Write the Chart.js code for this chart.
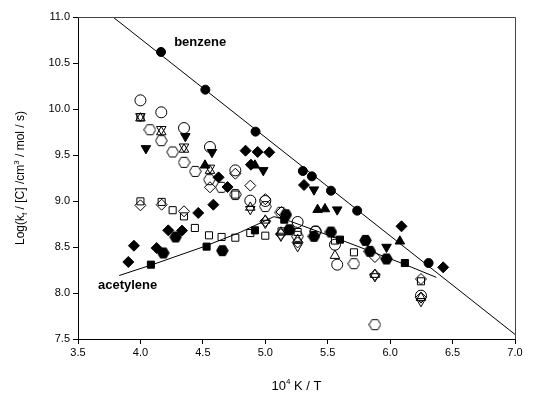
<!DOCTYPE html>
<html>
<head>
<meta charset="utf-8">
<script src="https://cdn.jsdelivr.net/npm/chart.js@4"></script>
<style>
  html, body { margin: 0; padding: 0; background: #fff; }
  #wrap { width: 535px; height: 394px; }
</style>
</head>
<body>
<div id="wrap"><canvas id="chart" width="535" height="394"></canvas></div>
<script>
const xTicks = [3.5, 4.0, 4.5, 5.0, 5.5, 6.0, 6.5, 7.0];
const yTicks = [7.5, 8.0, 8.5, 9.0, 9.5, 10.0, 10.5, 11.0];

// benzene fit line and acetylene curve
const benzeneLineX = [3.78, 7.0];
const benzeneLineY = [11.0, 7.55];
const acetyleneLineX = [3.83, 4.1, 4.5, 4.8, 5.07, 5.2, 5.6, 6.1, 6.37];
const acetyleneLineY = [8.19, 8.31, 8.50, 8.66, 8.83, 8.78, 8.58, 8.32, 8.17];

// one array pair per symbol
const filledCircleX = [4.165, 4.52, 4.922, 5.301, 5.373, 5.526, 5.736, 6.308];
const filledCircleY = [10.62, 10.21, 9.754, 9.326, 9.268, 9.112, 8.895, 8.326];

const openCircleX = [4.0, 4.167, 4.349, 4.557, 4.76, 4.88, 5.0, 5.259, 5.403, 5.558, 5.576, 6.247];
const openCircleY = [10.094, 9.964, 9.793, 9.587, 9.333, 9.004, 9.0, 8.772, 8.67, 8.525, 8.308, 7.971];

const filledTriDownX = [4.044, 4.36, 4.573, 4.984, 5.39, 5.576, 5.971];
const filledTriDownY = [9.572, 9.703, 9.53, 9.333, 9.123, 8.906, 8.5];

const openTriUpX = [4.0, 4.167, 4.349, 4.557, 4.88, 5.0, 5.125, 5.259, 5.558, 5.878, 6.247];
const openTriUpY = [9.9, 9.75, 9.56, 9.33, 8.93, 8.79, 8.66, 8.58, 8.406, 8.2, 7.95];

const filledSquareX = [4.084, 4.53, 4.917, 5.152, 5.598, 6.118];
const filledSquareY = [8.308, 8.504, 8.681, 8.797, 8.58, 8.326];

const openSquareX = [4.0, 4.0, 4.17, 4.258, 4.349, 4.436, 4.549, 4.65, 4.76, 4.76, 4.88, 5.0, 5.13, 5.259, 5.558, 5.71, 6.247];
const openSquareY = [9.91, 8.996, 8.99, 8.9, 8.833, 8.707, 8.627, 8.609, 8.601, 9.07, 8.652, 8.623, 8.67, 8.663, 8.57, 8.442, 8.127];

const filledDiamondX = [3.903, 3.948, 4.13, 4.223, 4.333, 4.463, 4.584, 4.626, 4.698, 4.842, 4.885, 4.939, 5.032, 5.31, 6.091, 6.425];
const filledDiamondY = [8.337, 8.514, 8.489, 8.681, 8.678, 8.87, 8.96, 9.257, 9.152, 9.547, 9.395, 9.533, 9.529, 9.174, 8.725, 8.279];

const openDiamondX = [4.0, 4.17, 4.349, 4.557, 4.76, 4.88, 5.0, 5.0, 5.125, 5.13, 5.259, 5.878, 5.878, 6.247, 6.247];
const openDiamondY = [8.953, 8.96, 8.888, 9.149, 9.297, 9.167, 9.02, 8.78, 8.64, 8.88, 8.55, 8.391, 8.196, 8.152, 7.95];

const filledTriUpX = [4.517, 4.917, 5.419, 5.478, 6.078];
const filledTriUpY = [9.388, 9.388, 8.906, 8.913, 8.562];

const openTriDownX = [4.0, 4.167, 4.349, 4.557, 4.88, 5.0, 5.125, 5.259, 5.878, 6.247];
const openTriDownY = [9.92, 9.78, 9.59, 9.36, 8.91, 8.76, 8.62, 8.507, 8.18, 7.91];

const filledHexX = [4.183, 4.282, 4.656, 5.165, 5.192, 5.39, 5.526, 5.803, 5.838, 5.971];
const filledHexY = [8.435, 8.609, 8.46, 8.851, 8.688, 8.616, 8.663, 8.572, 8.453, 8.37];

const openHexX = [4.076, 4.167, 4.258, 4.349, 4.439, 4.552, 4.648, 4.76, 5.0, 5.125, 5.259, 5.403, 5.71, 5.878];
const openHexY = [9.775, 9.656, 9.533, 9.42, 9.322, 9.232, 9.149, 9.07, 8.94, 8.877, 8.616, 8.67, 8.319, 7.656];

const FONT = "Arial, 'Liberation Sans', Helvetica, sans-serif";

function pts(xs, ys) {
   return xs.map((x, i) => ({ x: x, y: ys[i] }));
}

function makeHexagon(filled) {
   const c = document.createElement("canvas");
   c.width = 13;
   c.height = 13;
   const ctx = c.getContext("2d");
   ctx.beginPath();
   for (let i = 0; i < 6; i++) {
      const a = (Math.PI / 3) * i;
      const px = 6.5 + 5.8 * Math.cos(a);
      const py = 6.5 + 5.8 * Math.sin(a);
      if (i === 0) ctx.moveTo(px, py);
      else ctx.lineTo(px, py);
   }
   ctx.closePath();
   if (filled) {
      ctx.fillStyle = "#000";
      ctx.fill();
   }
   ctx.strokeStyle = "#000";
   ctx.lineWidth = 1;
   ctx.stroke();
   return c;
}

function symbolSet(xs, ys, style, filled, radius, rotation) {
   return {
      data: pts(xs, ys),
      pointStyle: style,
      pointRadius: radius,
      pointRotation: rotation || 0,
      backgroundColor: filled ? "#000" : "rgba(0,0,0,0)",
      borderColor: "#000",
      borderWidth: 1,
      showLine: false,
   };
}

const filledHex = makeHexagon(true);
const openHex = makeHexagon(false);

// draws the frame, axis titles with sub/superscripts and the two labels
const decorPlugin = {
   id: "decor",
   afterDraw(chart) {
      const { ctx, chartArea, scales } = chart;
      ctx.save();
      ctx.strokeStyle = "#444";
      ctx.lineWidth = 1;
      ctx.beginPath();
      ctx.moveTo(chartArea.left, chartArea.top + 0.5);
      ctx.lineTo(chartArea.right + 0.5, chartArea.top + 0.5);
      ctx.lineTo(chartArea.right + 0.5, chartArea.bottom);
      ctx.stroke();

      ctx.fillStyle = "#000";
      ctx.textBaseline = "alphabetic";

      function runs(parts) {
         let w = 0;
         for (const p of parts) {
            ctx.font = p.size + "px " + FONT;
            w += ctx.measureText(p.t).width;
         }
         return w;
      }
      function drawRuns(parts, x, y) {
         let cx = x;
         for (const p of parts) {
            ctx.font = p.size + "px " + FONT;
            ctx.fillText(p.t, cx, y + (p.dy || 0));
            cx += ctx.measureText(p.t).width;
         }
      }

      // y title
      const yParts = [
         { t: "Log(k", size: 12 },
         { t: "f", size: 8, dy: 3 },
         { t: " / [C] /cm", size: 12 },
         { t: "3", size: 8, dy: -5 },
         { t: " / mol / s)", size: 12 },
      ];
      const yw = runs(yParts);
      ctx.save();
      ctx.translate(24, (chartArea.top + chartArea.bottom) / 2);
      ctx.rotate(-Math.PI / 2);
      drawRuns(yParts, -yw / 2, 0);
      ctx.restore();

      // x title
      const xParts = [
         { t: "10", size: 13 },
         { t: "4", size: 8, dy: -6 },
         { t: " K / T", size: 13 },
      ];
      const xw = runs(xParts);
      drawRuns(xParts, (chartArea.left + chartArea.right) / 2 - xw / 2, 390);

      // series labels
      ctx.font = "bold 13px " + FONT;
      ctx.textBaseline = "middle";
      ctx.fillText("benzene", scales.x.getPixelForValue(4.27), scales.y.getPixelForValue(10.72));
      ctx.fillText("acetylene", scales.x.getPixelForValue(3.66), scales.y.getPixelForValue(8.08));
      ctx.restore();
   },
};

new Chart(document.getElementById("chart"), {
   type: "scatter",
   data: {
      datasets: [
         {
            data: pts(benzeneLineX, benzeneLineY),
            showLine: true,
            borderColor: "#000",
            borderWidth: 1,
            pointRadius: 0,
         },
         {
            data: pts(acetyleneLineX, acetyleneLineY),
            showLine: true,
            borderColor: "#000",
            borderWidth: 1,
            pointRadius: 0,
         },
         symbolSet(filledCircleX, filledCircleY, "circle", true, 4.5),
         symbolSet(openCircleX, openCircleY, "circle", false, 5.5),
         symbolSet(filledTriDownX, filledTriDownY, "triangle", true, 5.5, 180),
         symbolSet(openTriUpX, openTriUpY, "triangle", false, 5.5),
         symbolSet(filledSquareX, filledSquareY, "rect", true, 5),
         symbolSet(openSquareX, openSquareY, "rect", false, 5),
         symbolSet(filledDiamondX, filledDiamondY, "rectRot", true, 5.5),
         symbolSet(openDiamondX, openDiamondY, "rectRot", false, 5.5),
         symbolSet(filledTriUpX, filledTriUpY, "triangle", true, 5.5),
         symbolSet(openTriDownX, openTriDownY, "triangle", false, 5.5, 180),
         symbolSet(filledHexX, filledHexY, filledHex, true, 6),
         symbolSet(openHexX, openHexY, openHex, false, 6),
      ],
   },
   options: {
      responsive: false,
      animation: false,
      layout: { padding: { top: 17, right: 20, left: 0, bottom: 0 } },
      plugins: {
         legend: { display: false },
         tooltip: { enabled: false },
      },
      scales: {
         x: {
            type: "linear",
            min: 3.5,
            max: 7.0,
            afterBuildTicks: (scale) => {
               scale.ticks = xTicks.map((v) => ({ value: v }));
            },
            afterFit: (scale) => {
               scale.height = 55;
            },
            grid: { display: true, drawOnChartArea: false, drawTicks: true, tickLength: 5, color: "#000" },
            border: { display: true, color: "#000", width: 1 },
            ticks: {
               color: "#000",
               font: { size: 11, family: FONT },
               padding: 2,
               maxRotation: 0,
               callback: (v) => Number(v).toFixed(1),
            },
         },
         y: {
            type: "linear",
            min: 7.5,
            max: 11.0,
            afterBuildTicks: (scale) => {
               scale.ticks = yTicks.map((v) => ({ value: v }));
            },
            afterFit: (scale) => {
               scale.width = 78;
            },
            grid: { display: true, drawOnChartArea: false, drawTicks: true, tickLength: 5, color: "#000" },
            border: { display: true, color: "#000", width: 1 },
            ticks: {
               color: "#000",
               font: { size: 11, family: FONT },
               padding: 3,
               callback: (v) => Number(v).toFixed(1),
            },
         },
      },
   },
   plugins: [decorPlugin],
});
</script>
</body>
</html>
